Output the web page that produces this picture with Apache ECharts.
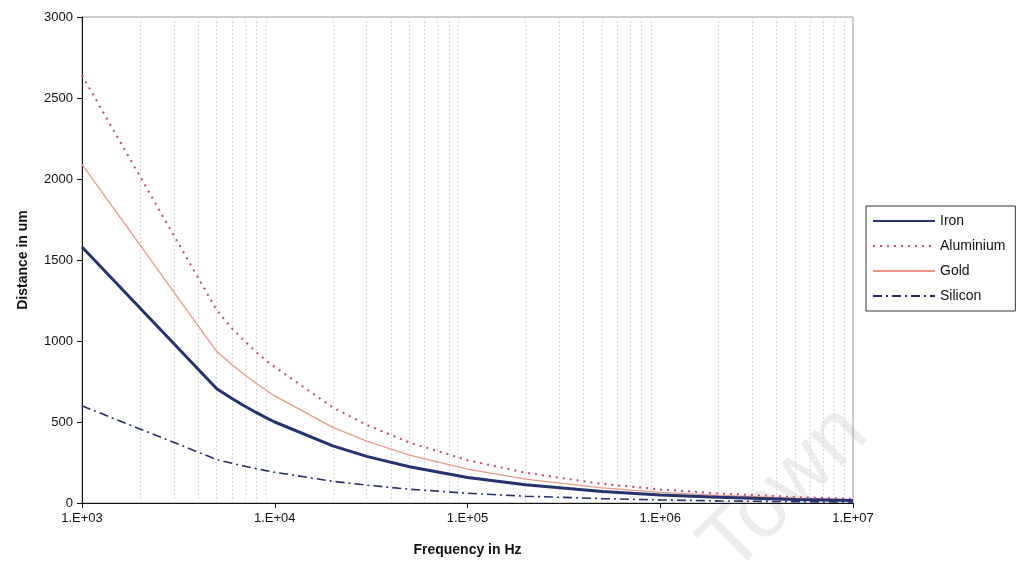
<!DOCTYPE html>
<html>
<head>
<meta charset="utf-8">
<script src="https://cdn.jsdelivr.net/npm/echarts@6/dist/echarts.min.js"></script>
<style>
  html, body { margin: 0; padding: 0; background: #fff; }
  #main { width: 1017px; height: 569px; }
</style>
</head>
<body>
<div id="main"></div>
<script>
// frequencies (Hz) where the curves were read
var freqs = [1e3, 5e3, 6e3, 7e3, 8e3, 9e3, 1e4, 2e4, 3e4, 5e4, 1e5, 2e5, 5e5, 1e6, 2e6, 5e6, 1e7];
// distance in um
var iron      = [1580, 705, 645, 597, 559, 527, 500, 353, 288, 224, 158, 112, 71, 50, 35, 22, 16];
var aluminium = [2640, 1190, 1078, 998, 933, 880, 840, 590, 482, 373, 264, 187, 118, 84, 59, 37, 26];
var gold      = [2090, 935, 853, 790, 739, 697, 661, 467, 382, 296, 209, 148, 93, 66, 47, 30, 21];
var silicon   = [600, 268, 245, 227, 212, 200, 190, 134, 110, 85, 60, 42, 27, 19, 13, 8, 6];
// minor vertical grid positions
var gridFreqs = [];
[1e3, 1e4, 1e5, 1e6].forEach(function (d) {
  for (var k = 2; k <= 9; k++) gridFreqs.push(k * d);
});

function pairs(ys) {
  return freqs.map(function (f, i) { return [f, ys[i]]; });
}

var chartDom = document.getElementById('main');
var myChart = echarts.init(chartDom);
var option = {
  animation: false,
  textStyle: { fontFamily: 'Liberation Sans, Arial, sans-serif' },
  grid: {
    left: 82, top: 17, right: 164, bottom: 66,
    show: true, borderColor: '#9a9a9a', borderWidth: 1
  },
  legend: {
    orient: 'vertical',
    left: 866, top: 206,
    padding: [8, 10, 8, 6],
    itemGap: 11,
    itemWidth: 62, itemHeight: 14,
    itemStyle: { opacity: 0 },
    borderColor: '#333', borderWidth: 1,
    textStyle: { fontSize: 14, color: '#111' },
    data: ['Iron', 'Aluminium', 'Gold', 'Silicon']
  },
  xAxis: {
    type: 'log',
    logBase: 10,
    min: 1e3, max: 1e7,
    name: 'Frequency in Hz',
    nameLocation: 'middle',
    nameGap: 40,
    nameTextStyle: { fontWeight: 'bold', fontSize: 14, color: '#111' },
    axisLine: { lineStyle: { color: '#111', width: 1 } },
    axisTick: { show: true, inside: false, length: 5, lineStyle: { color: '#111' } },
    axisLabel: {
      fontSize: 13, color: '#111', margin: 9,
      formatter: function (v) { return '1.E+0' + Math.round(Math.log10(v)); }
    },
    splitLine: { show: false }
  },
  yAxis: {
    type: 'value',
    min: 0, max: 3000, interval: 500,
    name: 'Distance in um',
    nameLocation: 'middle',
    nameGap: 52,
    nameTextStyle: { fontWeight: 'bold', fontSize: 14, color: '#111' },
    axisLine: { show: true, lineStyle: { color: '#111', width: 1 } },
    axisTick: { show: true, inside: false, length: 5, lineStyle: { color: '#111' } },
    axisLabel: {
      fontSize: 13, color: '#111', margin: 9,
      formatter: function (v) { return String(v); }
    },
    splitLine: { show: false }
  },
  graphic: [{
    type: 'text',
    x: 785, y: 490,
    rotation: Math.PI / 4,
    style: {
      text: 'Town',
      font: '84px "Liberation Sans", Arial, sans-serif',
      fill: '#ececec',
      align: 'center',
      verticalAlign: 'middle'
    },
    z: -10
  }],
  series: [
    {
      name: 'Iron', type: 'line', data: pairs(iron),
      symbol: 'none', smooth: false, z: 5,
      lineStyle: { color: '#25336f', width: 3 },
      itemStyle: { color: '#25336f' },
      markLine: {
        silent: true, symbol: 'none', label: { show: false },
        lineStyle: { color: '#d6d6d6', type: [2, 2], width: 1 },
        data: gridFreqs.map(function (f) { return { xAxis: f }; }),
        z: 1
      }
    },
    {
      name: 'Aluminium', type: 'line', data: pairs(aluminium),
      symbol: 'none', z: 4,
      lineStyle: { color: '#c4477a', width: 2, type: [2, 5] },
      itemStyle: { color: '#c4477a' }
    },
    {
      name: 'Gold', type: 'line', data: pairs(gold),
      symbol: 'none', z: 4,
      lineStyle: { color: '#e89a88', width: 1.3 },
      itemStyle: { color: '#e89a88' }
    },
    {
      name: 'Silicon', type: 'line', data: pairs(silicon),
      symbol: 'none', z: 4,
      lineStyle: { color: '#243066', width: 1.6, type: [9, 4, 2, 4] },
      itemStyle: { color: '#243066' }
    }
  ]
};
myChart.setOption(option);
</script>
</body>
</html>
